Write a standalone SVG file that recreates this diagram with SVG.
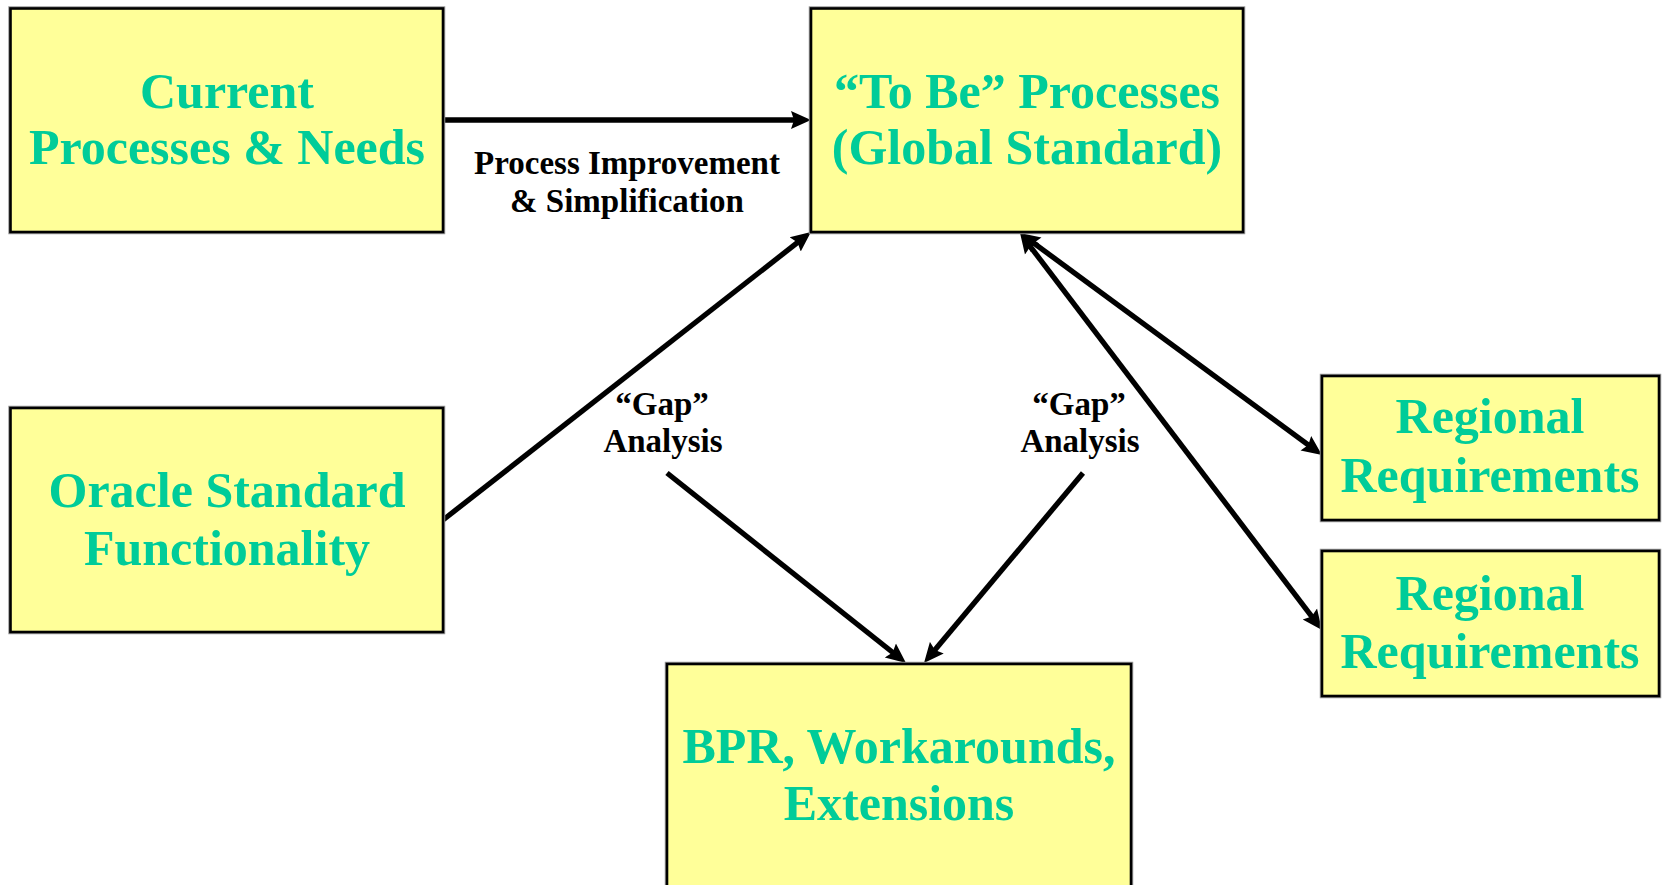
<svg xmlns="http://www.w3.org/2000/svg" width="1662" height="885" viewBox="0 0 1662 885">
<defs>
<style>
.box{fill:#FFFF99;stroke:#000;stroke-width:2.6}
.shadow{fill:none;stroke:#999;stroke-width:4.5}
.t{font-family:"Liberation Serif","Times New Roman",serif;font-weight:bold;font-size:50px;fill:#00CC99;text-anchor:middle}
.l{font-family:"Liberation Serif","Times New Roman",serif;font-weight:bold;font-size:33px;fill:#000;text-anchor:middle}
.c{stroke:#000;stroke-width:5.3;fill:none}
</style>
<marker id="ah" markerUnits="userSpaceOnUse" markerWidth="22" markerHeight="20" refX="8" refY="9" orient="auto-start-reverse" viewBox="0 0 22 18">
<path d="M0,0 L20,9 L0,18 L3,9 z" fill="#000"/>
</marker>
</defs>
<rect width="1662" height="885" fill="#fff"/>
<g id="connectors">
<line class="c" x1="443" y1="120" x2="799" y2="120" marker-end="url(#ah)"/>
<line class="c" x1="443" y1="520" x2="801.5" y2="239.4" marker-end="url(#ah)"/>
<line class="c" x1="667" y1="473" x2="896.6" y2="655.5" marker-end="url(#ah)"/>
<line class="c" x1="1083" y1="473" x2="931.7" y2="653.8" marker-end="url(#ah)"/>
<line class="c" x1="1029.7" y1="240.1" x2="1312.3" y2="447.9" marker-start="url(#ah)" marker-end="url(#ah)"/>
<line class="c" x1="1027.3" y1="242.6" x2="1314.7" y2="620.4" marker-start="url(#ah)" marker-end="url(#ah)"/>
</g>
<g id="current">
<rect class="shadow" x="10.5" y="8.5" width="432.5" height="223.5"/>
<rect class="box" x="10.5" y="8.5" width="432.5" height="223.5"/>
<text class="t" x="227" y="108">Current</text>
<text class="t" x="227" y="164">Processes &amp; Needs</text>
</g>
<g id="tobe">
<rect class="shadow" x="811" y="8.5" width="432" height="223.5"/>
<rect class="box" x="811" y="8.5" width="432" height="223.5"/>
<text class="t" x="1027" y="108">“To Be” Processes</text>
<text class="t" x="1027" y="164">(Global Standard)</text>
</g>
<g id="oracle">
<rect class="shadow" x="10.5" y="408" width="432.5" height="224"/>
<rect class="box" x="10.5" y="408" width="432.5" height="224"/>
<text class="t" x="227" y="507">Oracle Standard</text>
<text class="t" x="227" y="565">Functionality</text>
</g>
<g id="bpr">
<rect class="shadow" x="667" y="664" width="464" height="240"/>
<rect class="box" x="667" y="664" width="464" height="240"/>
<text class="t" x="899" y="763">BPR, Workarounds,</text>
<text class="t" x="899" y="820">Extensions</text>
</g>
<g id="regional1">
<rect class="shadow" x="1322" y="376" width="337" height="144"/>
<rect class="box" x="1322" y="376" width="337" height="144"/>
<text class="t" x="1490" y="433">Regional</text>
<text class="t" x="1490" y="492">Requirements</text>
</g>
<g id="regional2">
<rect class="shadow" x="1322" y="551" width="337" height="145"/>
<rect class="box" x="1322" y="551" width="337" height="145"/>
<text class="t" x="1490" y="610">Regional</text>
<text class="t" x="1490" y="668">Requirements</text>
</g>
<g id="labels">
<text class="l" x="627" y="174">Process Improvement</text>
<text class="l" x="627" y="212">&amp; Simplification</text>
<text class="l" x="662" y="415">“Gap”</text>
<text class="l" x="663" y="452">Analysis</text>
<text class="l" x="1079" y="415">“Gap”</text>
<text class="l" x="1080" y="452">Analysis</text>
</g>
</svg>
